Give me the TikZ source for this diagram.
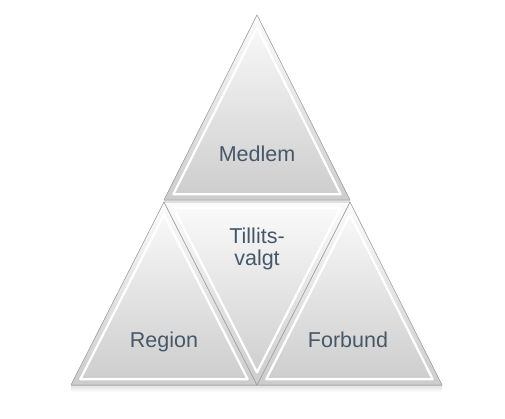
\documentclass[tikz,border=0pt]{standalone}
\usepackage{fontspec}
\setmainfont{Liberation Sans}
\usepackage{xcolor}
\usetikzlibrary{calc}
\definecolor{labelgray}{RGB}{70,88,104}
\tikzset{
	tri fill/.style={top color=gray!3, bottom color=gray!40},
	tri edge/.style={draw=gray!65, line width=0.6pt},
	bevel/.style={draw=white, line width=2.2pt, line join=round},
	label node/.style={text=labelgray, align=center, anchor=base, font=\fontsize{21.5}{22}\selectfont}
}
% one bevelled triangle: corners #1,#2,#3, incentre #4
\newcommand{\bevtri}[4]{
	\fill[tri fill] (#1) -- (#2) -- (#3) -- cycle;
	\draw[bevel] ($(#4)!0.9!(#1)$) -- ($(#4)!0.9!(#2)$) -- ($(#4)!0.9!(#3)$) -- cycle;
	\draw[tri edge] (#1) -- (#2) -- (#3) -- cycle;
}

\begin{document}
\begin{tikzpicture}[x=1pt,y=1pt]
	\useasboundingbox (0,0) rectangle (505,418);
	% corners
	\coordinate (a) at (257,403);
	\coordinate (b) at (164,218);
	\coordinate (c) at (350,218);
	\coordinate (d) at (164,216);
	\coordinate (e) at (350,216);
	\coordinate (f) at (71,33);
	\coordinate (g) at (257,33);
	\coordinate (h) at (442,33);
	% incentres
	\coordinate (i1) at (257,275);
	\coordinate (i2) at (164,90);
	\coordinate (i3) at (349,90);
	\coordinate (i4) at (257,159);
	% faint shadow under the base
	\fill[top color=gray!25, bottom color=white] (71,33) rectangle (442,26);
	\bevtri{a}{b}{c}{i1}
	\bevtri{d}{f}{g}{i2}
	\bevtri{e}{g}{h}{i3}
	\bevtri{d}{e}{g}{i4}
	\node[label node] (1) at (257,256) {Medlem};
	\node[label node] (2) at (257,153) {Tillits-\\valgt};
	\node[label node] (3) at (164,71) {Region};
	\node[label node] (4) at (348,71) {Forbund};
\end{tikzpicture}
\end{document}
